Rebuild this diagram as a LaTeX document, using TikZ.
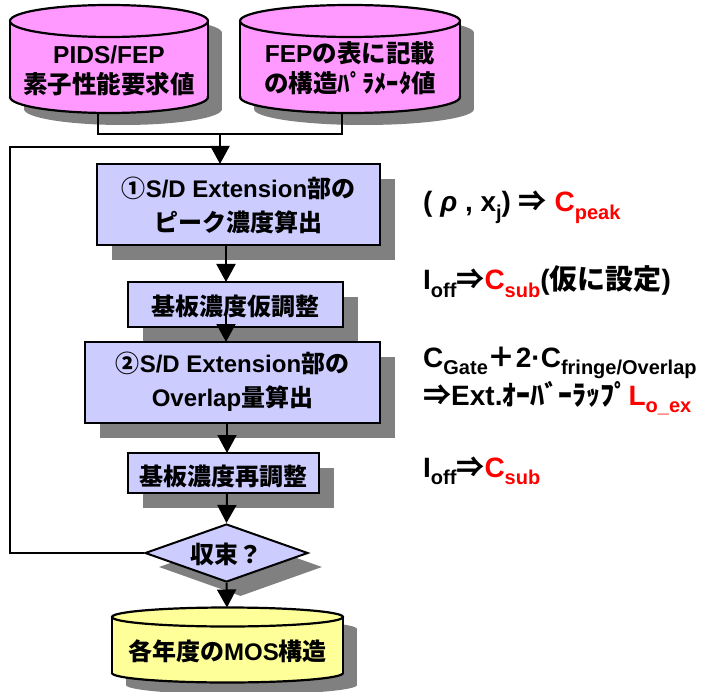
\documentclass[tikz,border=0pt]{standalone}
\usepackage{fontspec}
\setmainfont{Liberation Sans}
\newfontfamily\jp{Noto Sans CJK JP}
\usetikzlibrary{arrows.meta,shapes.geometric}
\definecolor{pinkf}{HTML}{FF99FF}
\definecolor{lav}{HTML}{CCCCFF}
\definecolor{yel}{HTML}{FFFF99}
\definecolor{shd}{HTML}{808080}
\newcommand\hl[1]{#1}
\newcommand\sbx[1]{\raisebox{-0.28em}{\fontsize{20}{20}\selectfont #1}}
\newcommand\rd[1]{\textcolor{red}{#1}}
\newcommand\drawcyl[6]{%
 \fill[shd] ({#1-#4+14},{#2+12}) rectangle ({#1+#4+14},{#3+12});
 \fill[shd] ({#1+14},{#3+12}) ellipse [x radius=#4, y radius=#5];
 \fill[shd] ({#1+14},{#2+12}) ellipse [x radius=#4, y radius=#5];
 \fill[#6] ({#1-#4},#2) rectangle ({#1+#4},#3);
 \fill[#6] (#1,#3) ellipse [x radius=#4, y radius=#5];
 \begin{scope}
  \clip ({#1-#4-3},#3) rectangle ({#1+#4+3},{#3+#5+3});
  \draw[cylline] (#1,#3) ellipse [x radius=#4, y radius=#5];
 \end{scope}
 \draw[cylline] ({#1-#4},#2) -- ({#1-#4},#3) ({#1+#4},#2) -- ({#1+#4},#3);
 \filldraw[cylline, fill=#6] (#1,#2) ellipse [x radius=#4, y radius=#5];
}
\tikzset{
 cylline/.style={draw=black, line width=2.2pt},
 anchorbox/.style={inner sep=0pt, outer sep=0pt},
 procbox/.style={draw=black, line width=2.5pt, fill=lav, inner sep=0pt, outer sep=0pt},
 shadowbox/.style={fill=shd, inner sep=0pt, outer sep=0pt},
 conn/.style={draw=black, line width=2pt},
 arr/.style={draw=black, line width=2pt, -{Triangle[width=19pt,length=18pt]}},
 txt/.style={inner sep=0pt, align=center, font=\bfseries\fontsize{24}{34}\selectfont},
 cyltxt/.style={inner sep=0pt, align=center, font=\bfseries\fontsize{24.5}{30}\selectfont},
 rtxt/.style={inner sep=0pt, anchor=base west, font=\bfseries\fontsize{28}{30}\selectfont},
}
\begin{document}
\begin{tikzpicture}[x=1pt,y=-1pt]
\fill[white] (0,0) rectangle (711,692);
\useasboundingbox (0,0) rectangle (711,692);
% top cylinders
\drawcyl{109}{21}{97}{99}{16}{pinkf}
\drawcyl{350}{21}{97}{110}{16}{pinkf}
\node[anchorbox, minimum width=198pt, minimum height=108pt] (c1) at (109,59) {};
\node[anchorbox, minimum width=220pt, minimum height=108pt] (c2) at (350,59) {};
\node[cyltxt] (t1) at (109,71) {\hl{PIDS/FEP}\\\hl{\jp 素子性能要求値}};
\node[cyltxt] (t2) at (350,68) {\hl{FEP{\jp の表に記載}}\\\hl{\jp の構造ﾊﾟﾗﾒｰﾀ値}};
% shadows of boxes
\node[shadowbox, minimum width=283pt, minimum height=81pt] at (253.5,219.5) {};
\node[shadowbox, minimum width=215pt, minimum height=45pt] at (250.5,319.5) {};
\node[shadowbox, minimum width=295pt, minimum height=81pt] at (247.5,397.5) {};
\node[shadowbox, minimum width=191pt, minimum height=40pt] at (238.5,488) {};
\node[shape=diamond, fill=shd, inner sep=0pt, aspect=2.8, minimum width=163pt, minimum height=58pt] at (240.5,567) {};
% boxes
\node[procbox, minimum width=283pt, minimum height=81pt] (b1) at (238.5,204.5) {};
\node[procbox, minimum width=215pt, minimum height=45pt] (b2) at (235.5,304.5) {};
\node[procbox, minimum width=295pt, minimum height=81pt] (b3) at (232.5,382.5) {};
\node[procbox, minimum width=191pt, minimum height=40pt] (b4) at (223.5,473) {};
\node[shape=diamond, draw=black, line width=2pt, fill=lav, inner sep=0pt, aspect=2.8, minimum width=163pt, minimum height=58pt] (d) at (226.5,553) {};
\node[txt] (tb1) at (238.5,205) {\hl{{\jp ①}S/D Extension{\jp 部の}}\\\hl{\jp ピーク濃度算出}};
\node[txt] (tb2) at (235.5,306) {\hl{\jp 基板濃度仮調整}};
\node[txt] (tb3) at (232.5,382) {\hl{{\jp ②}S/D Extension{\jp 部の}}\\\hl{Overlap{\jp 量算出}}};
\node[txt] (tb4) at (223.5,476) {\hl{\jp 基板濃度再調整}};
\node[txt] (td) at (226.5,554) {\hl{\jp 収束？}};
% bottom cylinder
\drawcyl{227.5}{617}{673}{115.5}{9.5}{yel}
\node[anchorbox, minimum width=231pt, minimum height=75pt] (c3) at (227.5,645) {};
\node[txt] (t3) at (227.5,651) {\hl{{\jp 各年度の}MOS{\jp 構造}}};
% connectors
\coordinate (c1o) at (98,113);
\coordinate (c2o) at (342,113);
\coordinate (j) at (220,134);
\coordinate (lc) at (10,553);
\draw[conn] (c1o) |- (j) -| (c2o);
\draw[conn] (d.west) -- (lc) |- (j |- 0,147);
\draw[arr] (j) -- (j |- b1.north);
\draw[arr] (226,245) -- (226,282);
\draw[arr] (226,314) -- (226,342);
\draw[arr] (227,423) -- (227,453);
\draw[arr] (227,493) -- (d.north);
\draw[arr] (d.south) -- (227,607.5);
% right-hand notes
\node[rtxt] (r1) at (423,212) {( \textit{ρ} , x\sbx{j}) {\jp ⇒} \rd{C\sbx{peak}}};
\node[rtxt] (r2) at (423,290) {I\sbx{off}{\jp ⇒}\rd{C\sbx{sub}}({\jp 仮に設定})};
\node[rtxt] (r3) at (423,367) {C\sbx{Gate}{\jp ＋}2·C\sbx{fringe/Overlap}};
\node[rtxt] (r4) at (423,405) {{\jp ⇒}Ext.{\jp ｵｰﾊﾞｰﾗｯﾌﾟ}\rd{L\sbx{o\_ex}}};
\node[rtxt] (r5) at (423,477) {I\sbx{off}{\jp ⇒}\rd{C\sbx{sub}}};
\end{tikzpicture}
\end{document}
